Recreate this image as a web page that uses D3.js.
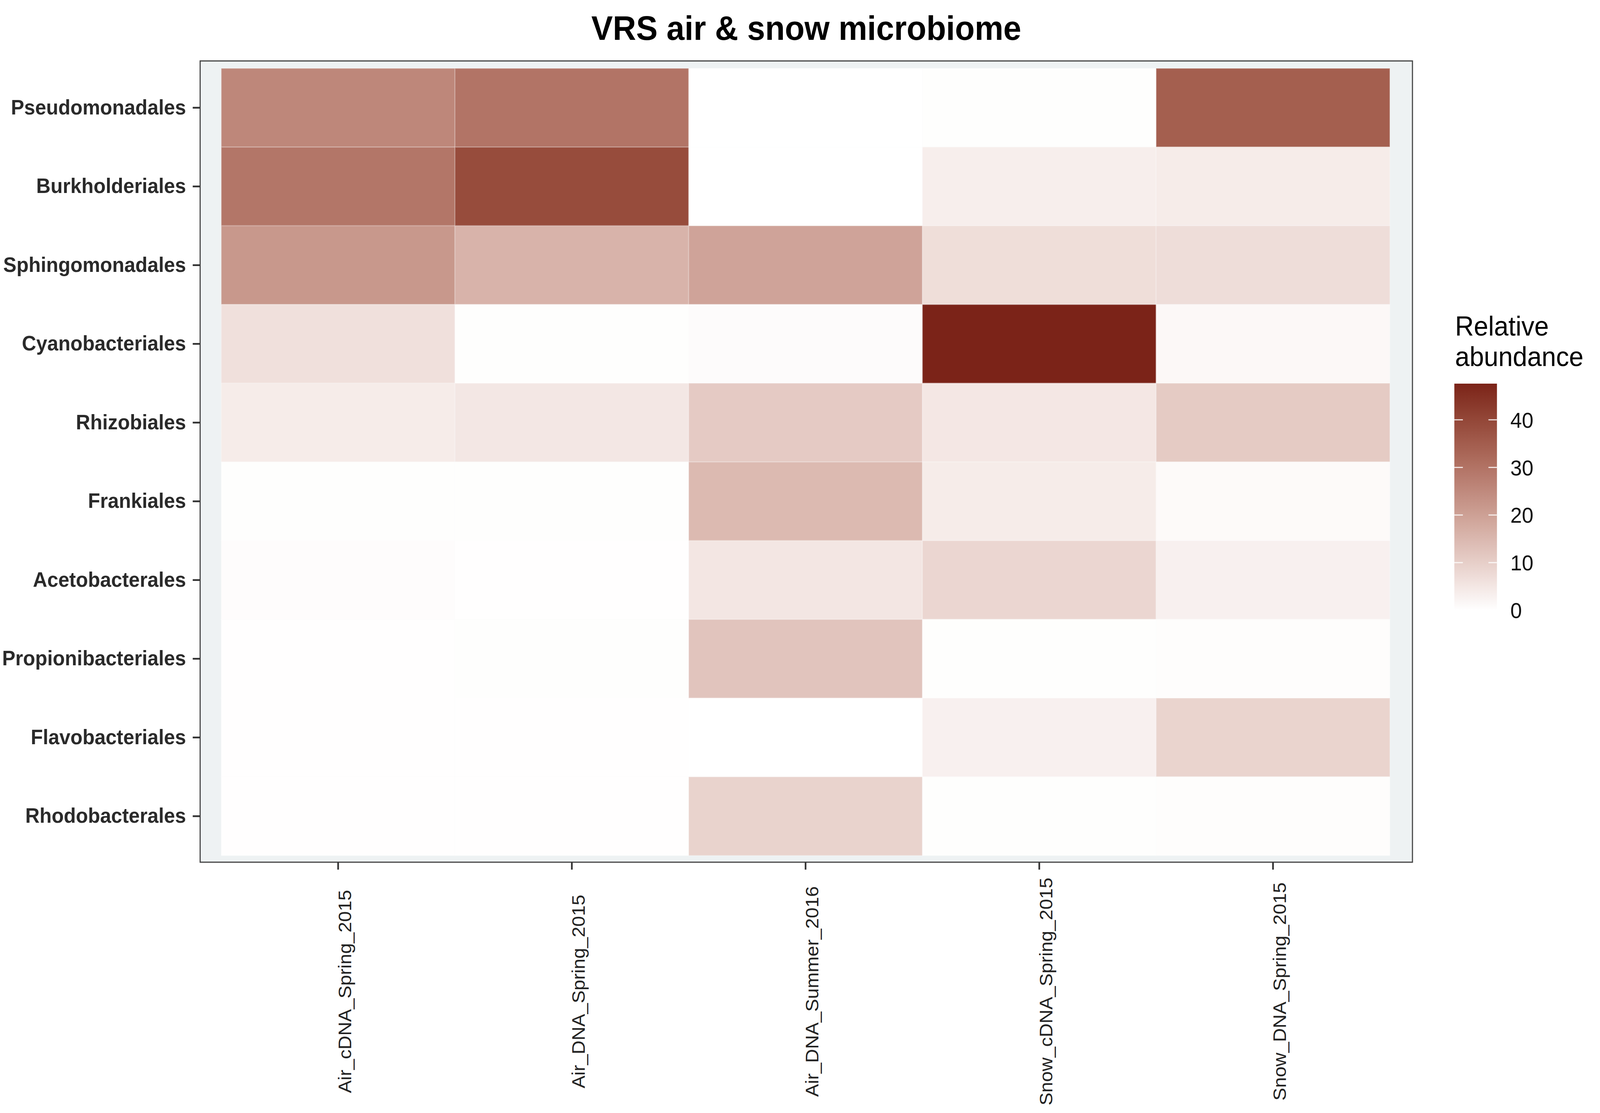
<!DOCTYPE html>
<html>
<head>
<meta charset="utf-8">
<script src="https://cdn.jsdelivr.net/npm/d3@7"></script>
<style>
  html, body { margin: 0; padding: 0; background: #ffffff; overflow: hidden; }
  #chart { display: block; width: 100vw; height: 100vh; }
  text { font-family: "Liberation Sans", Arial, Helvetica, sans-serif; }
</style>
</head>
<body>
<svg id="chart"></svg>
<script>
/////////////////////////
// data
/////////////////////////

var samples = [
  "Air_cDNA_Spring_2015",
  "Air_DNA_Spring_2015",
  "Air_DNA_Summer_2016",
  "Snow_cDNA_Spring_2015",
  "Snow_DNA_Spring_2015"
];

var orders = [
  "Pseudomonadales", "Burkholderiales", "Sphingomonadales", "Cyanobacteriales",
  "Rhizobiales", "Frankiales", "Acetobacterales", "Propionibacteriales",
  "Flavobacteriales", "Rhodobacterales"
];

// relative abundance (%) per sample, in the order of `orders`
var airCdnaSpring2015  = [25.6, 29.3, 21.9, 6.5, 4.0, 0.3, 0.6, 0.2, 0.2, 0.2];
var airDnaSpring2015   = [29.8, 38.9, 15.9, 0.3, 5.0, 0.3, 0.2, 0.3, 0.2, 0.2];
var airDnaSummer2016   = [0.0, 0.0, 19.3, 0.8, 11.0, 14.5, 5.2, 12.3, 0.0, 9.2];
var snowCdnaSpring2015 = [0.3, 3.5, 6.9, 47.6, 4.9, 4.0, 8.5, 0.3, 3.0, 0.3];
var snowDnaSpring2015  = [34.6, 4.0, 7.0, 1.5, 10.9, 1.0, 3.0, 0.5, 9.0, 0.5];

var series = [airCdnaSpring2015, airDnaSpring2015, airDnaSummer2016,
              snowCdnaSpring2015, snowDnaSpring2015];

var legendTicks = [0, 10, 20, 30, 40];

var title = "VRS air & snow microbiome";
var legendTitle = ["Relative", "abundance"];

/////////////////////////
// layout
/////////////////////////

var W = 4317, H = 2849;
var panel = { x0: 540, x1: 3811, y0: 156, y1: 2207 };

// viewBox stretched to the window so the whole figure always fills it
var svg = d3.select("#chart")
    .attr("viewBox", "0 0 " + W + " " + H)
    .attr("preserveAspectRatio", "none");

svg.append("rect")
    .attr("width", W).attr("height", H)
    .attr("fill", "#ffffff");

var cells = [];
samples.forEach(function(s, i) {
    orders.forEach(function(o, j) {
        cells.push({ sample: s, order: o, value: series[i][j] });
    });
});

var maxV = d3.max(cells, function(d) { return d.value; });

var x = d3.scaleBand().domain(samples).range([597, 3750]).padding(0);
var y = d3.scaleBand().domain(orders).range([175, 2190]).padding(0);

var color = d3.scaleLinear()
    .domain([0, maxV])
    .range(["#ffffff", "#7b2318"])
    .interpolate(d3.interpolateLab);

// panel background
svg.append("rect")
    .attr("x", panel.x0).attr("y", panel.y0)
    .attr("width", panel.x1 - panel.x0)
    .attr("height", panel.y1 - panel.y0)
    .attr("fill", "#eef2f3");

// tiles
svg.append("g")
    .attr("id", "tiles")
    .selectAll("rect")
    .data(cells)
    .enter().append("rect")
    .attr("x", function(d) { return x(d.sample); })
    .attr("y", function(d) { return y(d.order); })
    .attr("width", x.bandwidth())
    .attr("height", y.bandwidth())
    .attr("fill", function(d) { return color(d.value); })
    .attr("stroke", "#ffffff")
    .attr("stroke-opacity", 0.2)
    .attr("stroke-width", 3);

// panel border
svg.append("rect")
    .attr("x", panel.x0).attr("y", panel.y0)
    .attr("width", panel.x1 - panel.x0)
    .attr("height", panel.y1 - panel.y0)
    .attr("fill", "none")
    .attr("stroke", "#444444")
    .attr("stroke-width", 3);

/////////////////////////
// axes
/////////////////////////

var yAxis = svg.append("g")
    .attr("transform", "translate(" + panel.x0 + ",0)")
    .call(d3.axisLeft(y).tickSize(20).tickPadding(18));

yAxis.select(".domain").remove();
yAxis.selectAll(".tick line")
    .attr("stroke", "#333333")
    .attr("stroke-width", 4.5);
yAxis.selectAll(".tick text")
    .attr("font-size", 53.5)
    .attr("font-weight", "bold")
    .attr("fill", "#2a2a2a")
    .attr("font-family", "Liberation Sans, Arial, sans-serif");

var xAxis = svg.append("g")
    .attr("transform", "translate(0," + panel.y1 + ")")
    .call(d3.axisBottom(x).tickSize(19));

xAxis.select(".domain").remove();
xAxis.selectAll(".tick line")
    .attr("stroke", "#333333")
    .attr("stroke-width", 4.5);
xAxis.selectAll(".tick text")
    .attr("transform", "rotate(-90)")
    .attr("x", -331)
    .attr("y", 35)
    .attr("dy", 0)
    .attr("text-anchor", "middle")
    .attr("font-size", 49)
    .attr("fill", "#222222")
    .attr("font-family", "Liberation Sans, Arial, sans-serif");

// title
svg.append("text")
    .attr("x", (panel.x0 + panel.x1) / 2)
    .attr("y", 102)
    .attr("text-anchor", "middle")
    .attr("font-size", 87)
    .attr("font-weight", "bold")
    .attr("fill", "#000000")
    .text(title);

/////////////////////////
// legend
/////////////////////////

var legX = 3924, legW = 115;
var legY = d3.scaleLinear().domain([0, maxV]).range([1562, 982]);

var grad = svg.append("defs").append("linearGradient")
    .attr("id", "legendGrad")
    .attr("x1", 0).attr("y1", 1).attr("x2", 0).attr("y2", 0);

grad.selectAll("stop")
    .data(d3.range(0, 21).map(function(i) { return i / 20; }))
    .enter().append("stop")
    .attr("offset", function(t) { return t; })
    .attr("stop-color", function(t) { return color(t * maxV); });

svg.append("rect")
    .attr("x", legX)
    .attr("y", legY(maxV))
    .attr("width", legW)
    .attr("height", legY(0) - legY(maxV))
    .attr("fill", "url(#legendGrad)");

var lt = svg.append("g").attr("id", "legendTicks")
    .selectAll("g")
    .data(legendTicks)
    .enter().append("g")
    .attr("transform", function(d) { return "translate(0," + legY(d) + ")"; });

lt.append("line")
    .attr("x1", legX).attr("x2", legX + 23)
    .attr("stroke", "#ffffff").attr("stroke-opacity", 0.8).attr("stroke-width", 3);
lt.append("line")
    .attr("x1", legX + legW - 23).attr("x2", legX + legW)
    .attr("stroke", "#ffffff").attr("stroke-opacity", 0.8).attr("stroke-width", 3);
lt.append("text")
    .attr("x", 4075)
    .attr("dy", "0.36em")
    .attr("font-size", 56)
    .attr("fill", "#111111")
    .text(function(d) { return d; });

svg.append("g")
    .selectAll("text")
    .data(legendTitle)
    .enter().append("text")
    .attr("x", 3926)
    .attr("y", function(d, i) { return 859 + i * 78; })
    .attr("font-size", 70)
    .attr("fill", "#000000")
    .text(function(d) { return d; });
</script>
</body>
</html>
